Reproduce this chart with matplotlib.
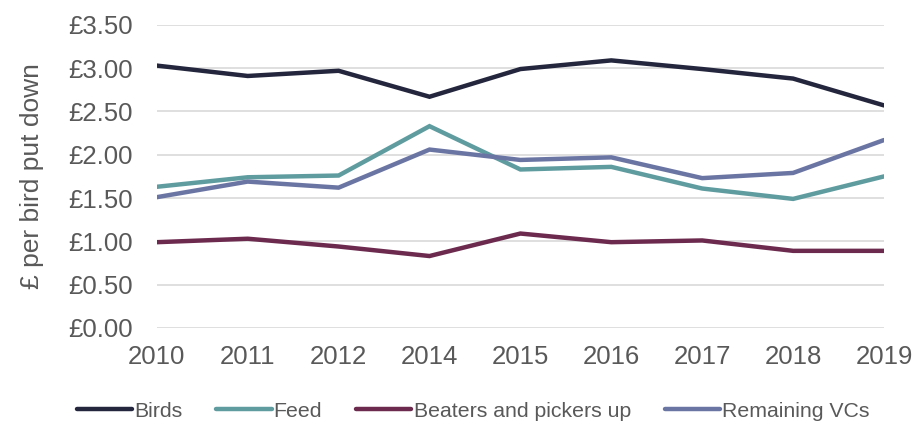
import matplotlib
matplotlib.use("Agg")
import matplotlib.pyplot as plt
from matplotlib.ticker import FuncFormatter

plt.rcParams['font.family'] = ['Liberation Sans', 'DejaVu Sans']

# data
years = ['2010', '2011', '2012', '2014', '2015', '2016', '2017', '2018', '2019']
birds = [3.03, 2.91, 2.97, 2.67, 2.99, 3.09, 2.99, 2.88, 2.57]
feed = [1.63, 1.74, 1.76, 2.33, 1.83, 1.86, 1.61, 1.49, 1.75]
beaters = [0.99, 1.03, 0.94, 0.83, 1.09, 0.99, 1.01, 0.89, 0.89]
remaining = [1.51, 1.69, 1.62, 2.06, 1.94, 1.97, 1.73, 1.79, 2.17]

series = [
    ('Birds', birds, '#23263d'),
    ('Feed', feed, '#5f9ca0'),
    ('Beaters and pickers up', beaters, '#6c2a4e'),
    ('Remaining VCs', remaining, '#6b75a3'),
]

text_col = '#595959'

fig = plt.figure(figsize=(9.17, 4.22), dpi=100)
ax = fig.add_axes([0.171, 0.223, 0.793, 0.718])

x = list(range(len(years)))
for name, vals, col in series:
    ax.plot(x, vals, color=col, lw=3.2, label=name, solid_capstyle='round',
            solid_joinstyle='miter')

ax.set_xlim(0, len(years) - 1)
ax.set_ylim(0, 3.5)
ax.set_yticks([0, 0.5, 1.0, 1.5, 2.0, 2.5, 3.0, 3.5])
ax.yaxis.set_major_formatter(FuncFormatter(lambda v, p: '£%.2f' % v))
ax.set_xticks(x)
ax.set_xticklabels(years)

ax.grid(axis='y', color='#d9d9d9', lw=1.2)
ax.set_axisbelow(True)
for s in ax.spines.values():
    s.set_visible(False)
ax.tick_params(length=0, labelsize=18.5, colors=text_col)
ax.tick_params(axis='y', pad=17)
ax.tick_params(axis='x', pad=12)

ax.set_ylabel('£ per bird put down', fontsize=19, color=text_col)
ax.yaxis.set_label_coords(-0.155, 0.5)

# legend kept just inside the bottom edge
leg = fig.legend(loc='center', bbox_to_anchor=(0.516, 0.026), ncol=4, frameon=False,
                 fontsize=15.3, handlelength=2.6, handletextpad=0.1,
                 columnspacing=1.6)
for t in leg.get_texts():
    t.set_color(text_col)

fig.savefig('out.png', dpi=100)
